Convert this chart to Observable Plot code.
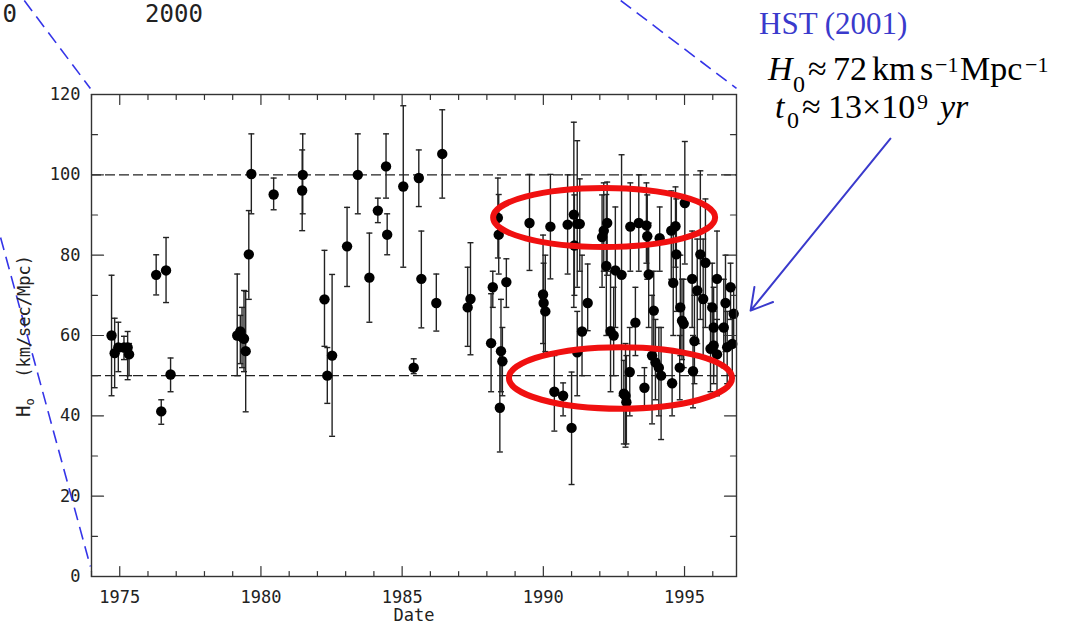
<!DOCTYPE html>
<html><head><meta charset="utf-8">
<script src="https://cdn.jsdelivr.net/npm/d3@7"></script>
<script src="https://cdn.jsdelivr.net/npm/@observablehq/plot@0.6"></script>
<style>body{margin:0;background:#fff;} svg{display:block;}</style>
</head><body><div id="chart"></div>
<script>
// ---- data ----
const dates = [
  1974.71, 1974.82, 1974.95, 1975.15, 1975.28, 1975.33, 1976.29, 1976.47, 1976.64, 1976.80,
  1979.16, 1979.27, 1979.33, 1979.40, 1979.46, 1979.57, 1979.66, 1980.45, 1981.46, 1981.48,
  1982.25, 1982.35, 1982.52, 1983.05, 1983.43, 1983.84, 1984.14, 1984.43, 1984.47, 1985.04,
  1985.41, 1985.59, 1985.68, 1986.21, 1986.42, 1987.32, 1987.42,
  1988.15, 1988.21, 1988.39, 1988.42, 1988.46, 1988.50, 1988.55, 1988.69, 1989.51,
  1989.99, 1990.01, 1990.07, 1990.25, 1990.39, 1990.70, 1990.86, 1991.00, 1991.08, 1991.10,
  1991.20, 1991.20, 1991.29, 1991.37, 1991.57, 1992.08, 1992.14, 1992.23, 1992.26, 1992.38,
  1992.49, 1992.55, 1992.77, 1992.85, 1992.91, 1992.94, 1993.06, 1993.08, 1993.26, 1993.38,
  1993.58, 1993.65, 1993.68, 1993.73, 1993.85, 1993.91, 1993.97, 1994.09, 1994.12, 1994.17,
  1994.53, 1994.56, 1994.60, 1994.68, 1994.71, 1994.83, 1994.85, 1994.91, 1994.97, 1995.01,
  1995.27, 1995.30, 1995.35, 1995.45, 1995.56, 1995.66, 1995.74, 1995.92, 1995.98, 1996.03,
  1996.03, 1996.15, 1996.15, 1996.39, 1996.45, 1996.51, 1996.63, 1996.69, 1996.74
];
const hubble = [
  60, 55.6, 57, 57, 57, 55.3, 75.1, 41.1, 76.2, 50.3,
  60, 61, 59.6, 59.2, 56.1, 80.2, 100.2, 95.1, 96.1, 100,
  69, 50, 55, 82.2, 100, 74.4, 91.1, 102.1, 85.1, 97.1,
  52, 99.2, 74.1, 68.1, 105.2, 67, 69.1,
  58.1, 72, 89.3, 85.1, 42, 56.1, 53.6, 73.3, 88,
  70.2, 68.1, 66, 87.1, 46, 45, 87.6, 37, 90.1, 82.4,
  87.8, 55.8, 87.8, 61, 68.1, 84.5, 86.1, 77.3, 88, 61.1,
  60, 76.2, 75.1, 45.5, 45, 43.4, 50.9, 87.1, 63.2, 88,
  47, 87.4, 84.7, 75.2, 55, 66.2, 53.3, 52, 84.2, 50,
  86.1, 48.1, 73.1, 87.2, 80.2, 52, 67, 63.7, 62.9, 93,
  74.1, 51.1, 58.6, 71.2, 80.2, 69.1, 78.1, 56.7, 67, 62,
  57.5, 74.1, 55.3, 62, 68.1, 57.1, 72, 57.9, 65.4
];
const lowerBound = [
  45, 47, 51, 54, 49, 50, 70.1, 37.9, 68.2, 46,
  50, 53, 52, 51, 41, 69, 90.3, 91.3, 86.1, 90.3,
  57.3, 43.1, 34.9, 72.2, 90.3, 63.3, 88.1, 94.2, 80.1, 77,
  50.5, 92.1, 61.9, 61.1, 94.2, 57.3, 55.2,
  46, 67, 79.3, 75.3, 31, 46, 45, 67, 76.2,
  58, 55, 56, 74.1, 36.2, 40, 75.3, 22.9, 67, 70,
  72, 45, 76, 50, 61.2, 72, 76, 60, 75, 46,
  50, 62, 45, 33, 32.2, 33, 40, 76, 55, 76,
  42, 78, 74, 62, 38, 56, 44, 40, 76, 34.1,
  74, 40, 60, 77, 66, 44, 55, 54, 52, 77.8,
  62, 42, 48, 58, 64, 55, 62, 46, 56, 50,
  48, 62, 45, 52, 56, 48, 64, 50, 58
];
const upperBound = [
  75, 64.3, 63.3, 59.8, 61, 58, 80.1, 44, 84.4, 54.4,
  75.3, 65, 67, 71.2, 71, 91.1, 110.2, 99.2, 106.2, 110.2,
  81.2, 57, 75.2, 91.9, 110.2, 85.5, 94.2, 110.2, 90.3, 117.2,
  54.2, 106.2, 86, 75.3, 116.2, 77, 83.1,
  70.4, 76, 99.2, 95.1, 56, 69, 62, 79.1, 100.1,
  85, 78, 80, 100.1, 55, 48.2, 100, 50.9, 113.1, 95,
  108.5, 66, 99, 80, 77.8, 95, 98, 95.1, 98.2, 76,
  72, 92, 105, 53.8, 58, 55, 62, 98, 72, 100,
  52, 98, 95, 88, 70, 76, 64, 62, 92, 62,
  96, 56, 86, 97, 94, 60, 80, 74, 74, 108.3,
  86, 60, 70, 84, 101, 84, 94, 68, 78, 72,
  66, 86, 64, 74, 80, 66, 78, 66, 72
];
const referenceLevels = [100, 50];
const xMajorTicks = [1975, 1980, 1985, 1990, 1995];
const xMinorTicks = [1974, 1976, 1977, 1978, 1979, 1981, 1982, 1983, 1984, 1986, 1987, 1988, 1989, 1991, 1992, 1993, 1994, 1996];
const yMajorTicks = [0, 20, 40, 60, 80, 100, 120];
const yMinorTicks = [10, 30, 50, 70, 90, 110];

// annotation geometry in data units
const ellipseCenterX = [1992.17, 1992.75];
const ellipseCenterY = [89.25, 49.3];
const ellipseRadiusX = [3.93, 3.95];
const ellipseRadiusY = [7.34, 7.67];
const zoomLineX1 = [1971.62, 1970.78, 1992.74];
const zoomLineY1 = [143.4, 84.4, 143.4];
const zoomLineX2 = [1973.96, 1973.96, 1996.84];
const zoomLineY2 = [121.5, 2.5, 121.5];
const arrowFrom = [2002.29, 109.0];
const arrowTo = [1997.34, 66.2];

// ---- build ----
const data = dates.map((d, i) => ({date: d, h: hubble[i], lo: lowerBound[i], hi: upperBound[i]}));
const zoomLines = zoomLineX1.map((x, i) => ({x1: x, y1: zoomLineY1[i], x2: zoomLineX2[i], y2: zoomLineY2[i]}));

const cap = {draw(ctx, size) { const r = Math.sqrt(size / Math.PI); ctx.moveTo(-r, 0); ctx.lineTo(r, 0); }};
const tickShape = {draw(ctx, l) { ctx.moveTo(0, 0); ctx.lineTo(0, -l); }};
const tk = (vals, ch, anchor, rot, len) => Plot.vector(vals, {
  [ch]: d => d, frameAnchor: anchor, rotate: rot, length: len, anchor: "start",
  shape: tickShape, stroke: "#333", strokeWidth: 1.2
});

const BLUE_LINE = "#3535e8";
const plot = Plot.plot({
  width: 1083, height: 628,
  marginLeft: 91, marginRight: 347, marginTop: 94, marginBottom: 52,
  x: {domain: [1974, 1996.84]},
  y: {domain: [0, 120]},
  style: {fontFamily: "'DejaVu Sans Mono', monospace", fontSize: "17px", background: "#fff", color: "#222", overflow: "visible"},
  marks: [
    Plot.ruleY(referenceLevels, {stroke: "#222", strokeWidth: 1.2, strokeDasharray: "10,4"}),
    Plot.ruleX(data, {x: "date", y1: "lo", y2: "hi", stroke: "#222", strokeWidth: 1.4}),
    Plot.dot(data, {x: "date", y: "lo", symbol: cap, r: 3, stroke: "#222", strokeWidth: 1.4}),
    Plot.dot(data, {x: "date", y: "hi", symbol: cap, r: 3, stroke: "#222", strokeWidth: 1.4}),
    Plot.dot(data, {x: "date", y: "h", r: 5.2, fill: "#000", stroke: "none"}),
    Plot.frame({stroke: "#333", strokeWidth: 1.4}),
    tk(xMajorTicks, "x", "bottom", 0, 10), tk(xMinorTicks, "x", "bottom", 0, 5),
    tk(xMajorTicks, "x", "top", 180, 10), tk(xMinorTicks, "x", "top", 180, 5),
    tk(yMajorTicks, "y", "left", 90, 12), tk(yMinorTicks, "y", "left", 90, 6),
    tk(yMajorTicks, "y", "right", -90, 12), tk(yMinorTicks, "y", "right", -90, 6),
    Plot.axisX({ticks: xMajorTicks, tickSize: 0, tickPadding: 14, label: null, tickFormat: d => String(d)}),
    Plot.axisY({ticks: yMajorTicks, tickSize: 0, tickPadding: 11, label: null}),
    Plot.text(["Date"], {frameAnchor: "bottom", dy: 44, fontSize: 17}),
    Plot.link(zoomLines, {x1: "x1", y1: "y1", x2: "x2", y2: "y2", stroke: BLUE_LINE, strokeWidth: 1.6, strokeDasharray: "13,7"}),
    Plot.arrow([{x1: arrowFrom[0], y1: arrowFrom[1], x2: arrowTo[0], y2: arrowTo[1]}],
      {x1: "x1", y1: "y1", x2: "x2", y2: "y2", stroke: "#3a3acc", strokeWidth: 2, headLength: 18, bend: 0})
  ]
});

const svg = d3.select(plot);
const sx = plot.scale("x"), sy = plot.scale("y");

// red ellipses
const eg = svg.append("g").attr("fill", "none").attr("stroke", "#f01010").attr("stroke-width", 6);
ellipseCenterX.forEach((cx, i) => {
  eg.append("ellipse")
    .attr("cx", sx.apply(cx)).attr("cy", sy.apply(ellipseCenterY[i]))
    .attr("rx", sx.apply(cx + ellipseRadiusX[i]) - sx.apply(cx))
    .attr("ry", sy.apply(ellipseCenterY[i] - ellipseRadiusY[i]) - sy.apply(ellipseCenterY[i]));
});

// y axis title with subscript
const mono = "'DejaVu Sans Mono', monospace";
const yl = svg.append("text").attr("transform", "translate(30,336) rotate(-90)")
  .attr("text-anchor", "middle").attr("font-family", mono)
  .attr("font-size", 17).attr("fill", "#222");
yl.append("tspan").attr("font-size", 19).text("H");
yl.append("tspan").attr("dy", 4).attr("font-size", 12).text("o");
yl.append("tspan").attr("dy", -4).text("  (km/sec/Mpc)");

// labels of the enclosing plot
svg.append("text").attr("x", 174).attr("y", 22).attr("text-anchor", "middle").attr("font-family", mono)
  .attr("font-size", 24).attr("fill", "#222").text("2000");
svg.append("text").attr("x", 17).attr("y", 22).attr("text-anchor", "end").attr("font-family", mono)
  .attr("font-size", 24).attr("fill", "#222").text("0");

// HST annotation
const serif = "'Liberation Serif', 'Times New Roman', serif";
const ann = svg.append("g").attr("font-family", serif).attr("text-anchor", "start");
ann.append("text").attr("x", 759).attr("y", 34).attr("font-size", 31).attr("fill", "#3a3acc").text("HST (2001)");
const l1 = ann.append("text").attr("font-size", 34).attr("fill", "#000");
const piece = (t, x, y, txt, size, italic) => {
  const s = t.append("tspan").attr("x", x).attr("y", y).text(txt);
  if (size) s.attr("font-size", size);
  if (italic) s.attr("font-style", "italic");
};
piece(l1, 768, 80, "H", null, true);
piece(l1, 793, 92, "0", 24);
piece(l1, 808, 80, "≈");
piece(l1, 833, 80, "72");
piece(l1, 872, 80, "km");
piece(l1, 920, 80, "s");
piece(l1, 935, 72, "−1", 22);
piece(l1, 960, 80, "Mpc");
piece(l1, 1025, 72, "−1", 22);
const l2 = ann.append("text").attr("font-size", 34).attr("fill", "#000");
piece(l2, 775, 118, "t", null, true);
piece(l2, 787, 128, "0", 24);
piece(l2, 802, 118, "≈");
piece(l2, 828, 118, "13×10");
piece(l2, 917, 109, "9", 22);
piece(l2, 940, 118, "yr", null, true);

document.getElementById("chart").appendChild(plot);
</script>
</body></html>
